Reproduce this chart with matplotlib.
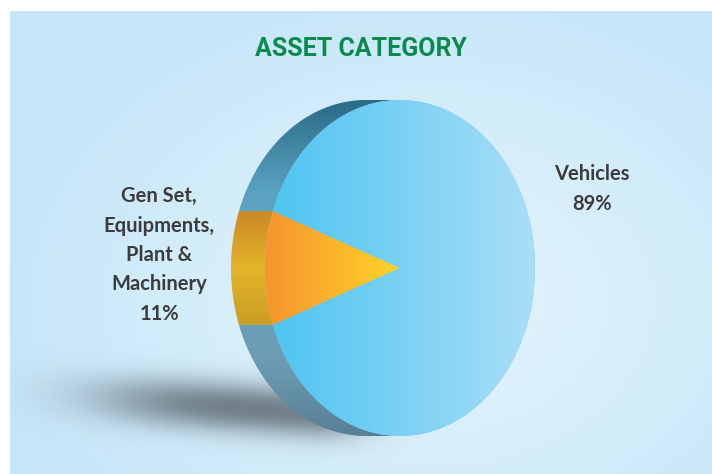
import numpy as np
import matplotlib

matplotlib.use("Agg")
import matplotlib.pyplot as plt
from matplotlib.patches import Polygon

# asset split, percent
categories = ["Gen Set,\nEquipments,\nPlant &\nMachinery", "Vehicles"]
shares = [11, 89]

# (left, right) colours of each front face
front_colors = [("#f5952f", "#ffd42a"), ("#4cc4f1", "#aadef7")]
# (y, colour) stops of the visible rim, y in pie units (+1 top, -1 bottom)
rim_stops = [
    [(0.45, "#c27a24"), (0.0, "#e4b42b"), (-0.6, "#b68c1f")],
    [(1.0, "#2a6b87"), (0.45, "#5aa3c1"), (-0.55, "#6d9db3"), (-1.0, "#587f95")],
]

W, H = 712, 474
CX, CY = 400, 268          # pie centre, pixels from top-left
RX, RY = 135, 168          # front face semi-axes, pixels
DEPTH = 34 / RX            # rim offset to the left, pie units


def hex_rgb(c):
    return np.array(matplotlib.colors.to_rgb(c))


def ramp(stops, coords):
    """Interpolate colour stops (pos, colour) over coords -> (n, 3)."""
    stops = sorted(stops, key=lambda s: s[0])
    pos = [s[0] for s in stops]
    cols = np.array([hex_rgb(s[1]) for s in stops])
    return np.stack([np.interp(coords, pos, cols[:, k]) for k in range(3)], axis=-1)


fig = plt.figure(figsize=(W / 100, H / 100), dpi=100, facecolor="white")

# background panel with a soft radial glow
bg = fig.add_axes([0, 0, 1, 1])
bg.set_xlim(0, W)
bg.set_ylim(H, 0)
bg.axis("off")
yy, xx = np.mgrid[11:H, 10:W]
r = np.clip(np.hypot((xx - 430) / 430, (yy - 300) / 320), 0, 1)
glow = ramp([(0.0, "#e4f4fc"), (0.45, "#d8effb"), (1.0, "#c6e6f8")], r)
bg.imshow(glow, extent=(10, W, H, 11), origin="upper", zorder=0)

# drop shadow to the lower left, fading out before the pie's right edge
yy, xx = np.mgrid[340:474, 10:600]
mid = 401 + (xx - 150) * 0.07
a = np.exp(-np.abs((xx - 265) / 170) ** 3 - np.abs((yy - mid) / 25) ** 2.2)
a *= np.exp(-(np.clip(xx - 310, 0, None) / 55) ** 2)
shadow = np.zeros(a.shape + (4,))
shadow[..., :3] = hex_rgb("#6c7a84")
shadow[..., 3] = 0.95 * a
bg.imshow(shadow, extent=(10, 600, 474, 340), origin="upper", zorder=1)

bg.text(361, 49, "ASSET CATEGORY", ha="center", va="center", fontsize=18,
        fontweight="bold", color="#0b8a4d", family=["Roboto", "DejaVu Sans"])

# pie in units where the front face is the unit circle
ax = fig.add_axes([0, 0, 1, 1])
ax.patch.set_alpha(0)
start = 180 - shares[0] / sum(shares) * 180
wedges, _ = ax.pie(shares, startangle=start, counterclock=True, radius=1,
                   wedgeprops=dict(linewidth=0))


def arc(t0, t1, dx):
    t = np.radians(np.linspace(t0, t1, 120))
    return np.column_stack([dx + np.cos(t), np.sin(t)])


# left-hand rim of each slice, then gradient front faces
for w, stops, (c0, c1) in zip(wedges, rim_stops, front_colors):
    t1, t2 = w.theta1, w.theta2
    for lo, hi in [(90, 270), (450, 630)]:
        s, e = max(t1, lo), min(t2, hi)
        if e <= s:
            continue
        pts = np.vstack([arc(s, e, 0), arc(e, s, -DEPTH)])
        rim = Polygon(pts, closed=True, facecolor="none", edgecolor="none")
        ax.add_patch(rim)
        ys = np.linspace(1, -1, 300)
        img = ramp(stops, ys)[:, None, :]
        im = ax.imshow(img, extent=(-1.4, 0.1, -1, 1), origin="upper",
                       aspect="auto", zorder=1)
        im.set_clip_path(rim)

    w.set_zorder(2)
    w.set_facecolor(c0)
    xs = np.linspace(-1, 1, 300)
    img = ramp([(-1, c0), (0 if c1 == "#ffd42a" else 1, c1)], xs)[None, :, :]
    im = ax.imshow(img, extent=(-1, 1, -1, 1), origin="upper",
                   aspect="auto", zorder=3)
    im.set_clip_path(w)

ax.set_xlim(-CX / RX, (W - CX) / RX)
ax.set_ylim(-(H - CY) / RY, CY / RY)
ax.set_aspect("auto")
ax.axis("off")

label_font = dict(ha="center", va="center", fontsize=14.5, fontweight="bold",
                  color="#3b3b3d", family=["Lato", "DejaVu Sans"], linespacing=1.58)
bg.text(159, 255, f"{categories[0]}\n{shares[0]}%", **label_font)
bg.text(592, 189, f"{categories[1]}\n{shares[1]}%", **label_font)

fig.savefig("out.png", dpi=100)
